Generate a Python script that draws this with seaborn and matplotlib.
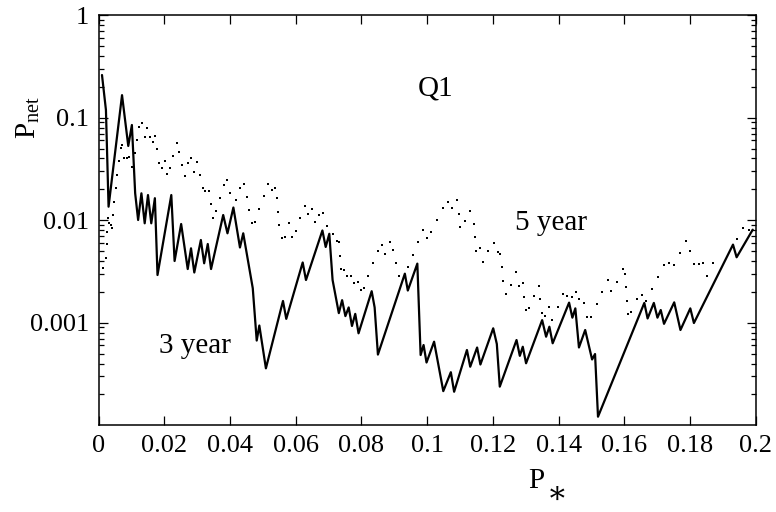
import matplotlib
matplotlib.use("Agg")
import matplotlib.pyplot as plt
from matplotlib.ticker import FixedLocator, FixedFormatter, LogLocator, NullLocator, NullFormatter
import numpy as np
import pandas as pd
import seaborn as sns

# 3-year survival curve (solid line)
p_star_3yr = [0.0010, 0.0022, 0.0030, 0.0071, 0.0090, 0.0101, 0.0111, 0.0120, 0.0130, 0.0140,
              0.0150, 0.0160, 0.0171, 0.0179, 0.0221, 0.0231, 0.0251, 0.0271, 0.0281, 0.0291,
              0.0311, 0.0321, 0.0332, 0.0342, 0.0379, 0.0392, 0.0410, 0.0430, 0.0440, 0.0469,
              0.0481, 0.0489, 0.0509, 0.0561, 0.0571, 0.0621, 0.0631, 0.0681, 0.0691, 0.0702,
              0.0712, 0.0731, 0.0741, 0.0751, 0.0761, 0.0771, 0.0781, 0.0791, 0.0831, 0.0840,
              0.0850, 0.0932, 0.0941, 0.0970, 0.0980, 0.0989, 0.0998, 0.1021, 0.1049, 0.1072,
              0.1082, 0.1121, 0.1131, 0.1152, 0.1162, 0.1201, 0.1212, 0.1221, 0.1272, 0.1282,
              0.1291, 0.1301, 0.1350, 0.1362, 0.1372, 0.1382, 0.1432, 0.1442, 0.1451, 0.1462,
              0.1481, 0.1502, 0.1511, 0.1520, 0.1661, 0.1671, 0.1690, 0.1701, 0.1711, 0.1721,
              0.1752, 0.1771, 0.1801, 0.1812, 0.1931, 0.1942, 0.1991]
p_net_3yr = [0.261, 0.119, 0.01355, 0.166, 0.0530, 0.0849, 0.0183, 0.01005, 0.0183, 0.00933,
             0.0176, 0.00933, 0.0164, 0.00292, 0.0176, 0.0040, 0.00918, 0.00334, 0.00532, 0.00309,
             0.00641, 0.00380, 0.00586, 0.00334, 0.01124, 0.00745, 0.0133, 0.00542, 0.00745, 0.00217,
             0.000670, 0.000939, 0.000359, 0.00163, 0.00109, 0.00387, 0.00261, 0.00794, 0.00548, 0.00737,
             0.00261, 0.00124, 0.00166, 0.00116, 0.00141, 0.000929, 0.00122, 0.000788, 0.00203, 0.00141,
             0.000489, 0.00301, 0.00206, 0.00377, 0.000484, 0.000606, 0.000409, 0.000653, 0.000215, 0.000329,
             0.000212, 0.000542, 0.000372, 0.000573, 0.000391, 0.000882, 0.000620, 0.000238, 0.000678, 0.000475,
             0.000583, 0.000402, 0.00106, 0.000730, 0.000914, 0.000630, 0.00157, 0.00112, 0.00138, 0.000573,
             0.000849, 0.000438, 0.000495, 0.000121, 0.00156, 0.00110, 0.00156, 0.00112, 0.00133, 0.000975,
             0.00158, 0.000849, 0.00138, 0.000993, 0.00578, 0.00435, 0.00808]

# 5-year survival curve (dots)
p_star_5yr = [0.0014, 0.0022, 0.0024, 0.0026, 0.0028, 0.0032, 0.0037, 0.0040, 0.0044, 0.0047,
              0.0053, 0.0057, 0.0061, 0.0067, 0.0072, 0.0077, 0.0085, 0.0093, 0.0101, 0.0110,
              0.0116, 0.0124, 0.0132, 0.0140, 0.0148, 0.0156, 0.0164, 0.0172, 0.0178, 0.0184,
              0.0193, 0.0201, 0.0209, 0.0217, 0.0227, 0.0237, 0.0245, 0.0254, 0.0262, 0.0272,
              0.0282, 0.0290, 0.0300, 0.0308, 0.0317, 0.0325, 0.0335, 0.0341, 0.0349, 0.0357,
              0.0369, 0.0382, 0.0392, 0.0400, 0.0418, 0.0431, 0.0443, 0.0451, 0.0458, 0.0467,
              0.0477, 0.0489, 0.0502, 0.0516, 0.0527, 0.0538, 0.0543, 0.0546, 0.0550, 0.0558,
              0.0568, 0.0580, 0.0588, 0.0601, 0.0614, 0.0628, 0.0638, 0.0649, 0.0658, 0.0672,
              0.0684, 0.0694, 0.0713, 0.0725, 0.0732, 0.0735, 0.0739, 0.0747, 0.0756, 0.0767,
              0.0777, 0.0788, 0.0798, 0.0809, 0.0821, 0.0835, 0.0849, 0.0862, 0.0872, 0.0888,
              0.0897, 0.0906, 0.0915, 0.0941, 0.0956, 0.0971, 0.0987, 0.0998, 0.1012, 0.1029,
              0.1047, 0.1063, 0.1075, 0.1092, 0.1096, 0.1100, 0.1114, 0.1131, 0.1142, 0.1146,
              0.1149, 0.1161, 0.1170, 0.1186, 0.1202, 0.1215, 0.1223, 0.1227, 0.1231, 0.1240,
              0.1254, 0.1270, 0.1279, 0.1291, 0.1296, 0.1301, 0.1310, 0.1326, 0.1341, 0.1344,
              0.1349, 0.1358, 0.1372, 0.1381, 0.1397, 0.1414, 0.1425, 0.1440, 0.1453, 0.1463,
              0.1477, 0.1486, 0.1500, 0.1516, 0.1532, 0.1549, 0.1560, 0.1577, 0.1595, 0.1603,
              0.1605, 0.1608, 0.1611, 0.1621, 0.1640, 0.1654, 0.1666, 0.1683, 0.1702, 0.1720,
              0.1735, 0.1750, 0.1769, 0.1788, 0.1800, 0.1811, 0.1826, 0.1840, 0.1851, 0.1871,
              0.1942, 0.1962, 0.1979]
p_net_5yr = [0.00340, 0.00425, 0.00582, 0.00773, 0.01044, 0.00933, 0.00898, 0.00834, 0.01124, 0.01514,
             0.02075, 0.0276, 0.0378, 0.0503, 0.0542, 0.0402, 0.0402, 0.0417, 0.0333, 0.0456,
             0.0606, 0.0817, 0.0882, 0.0653, 0.0788, 0.0653, 0.0583, 0.0663, 0.0492, 0.0364,
             0.0321, 0.0378, 0.0281, 0.0321, 0.0426, 0.0570, 0.0466, 0.0346, 0.0270, 0.0364,
             0.0402, 0.0297, 0.0372, 0.0276, 0.0205, 0.0193, 0.0193, 0.0143, 0.01057, 0.0123,
             0.0166, 0.0221, 0.0245, 0.0183, 0.01574, 0.0207, 0.0225, 0.0169, 0.01258, 0.00933,
             0.00954, 0.01277, 0.0172, 0.0225, 0.0197, 0.0205, 0.0166, 0.01211, 0.00898, 0.00665,
             0.00681, 0.00933, 0.00681, 0.00790, 0.01044, 0.01384, 0.01149, 0.01286, 0.00954, 0.01124,
             0.01167, 0.00884, 0.00733, 0.00627, 0.00608, 0.00451, 0.00334, 0.00327, 0.00286, 0.00286,
             0.00246, 0.00249, 0.00208, 0.00217, 0.00288, 0.00380, 0.00504, 0.00573, 0.00465, 0.00608,
             0.00512, 0.00380, 0.00286, 0.00347, 0.00461, 0.00608, 0.00807, 0.00675, 0.00762, 0.01012,
             0.01324, 0.01514, 0.01324, 0.01574, 0.01157, 0.00859, 0.00989, 0.01238, 0.00925, 0.00686,
             0.00504, 0.00532, 0.00388, 0.00504, 0.00603, 0.00486, 0.00465, 0.00347, 0.00257, 0.00191,
             0.00232, 0.00310, 0.00230, 0.00242, 0.00179, 0.00133, 0.00138, 0.00183, 0.00230, 0.00169,
             0.00125, 0.00116, 0.00143, 0.00106, 0.00143, 0.00189, 0.00182, 0.00179, 0.00200, 0.00169,
             0.00155, 0.00114, 0.00114, 0.00152, 0.00198, 0.00261, 0.00204, 0.00251, 0.00332, 0.00299,
             0.00221, 0.00164, 0.00122, 0.00128, 0.00169, 0.00188, 0.00164, 0.00215, 0.00281, 0.00368,
             0.00382, 0.00368, 0.00482, 0.00627, 0.00504, 0.00374, 0.00374, 0.00380, 0.00288, 0.00382,
             0.00656, 0.00839, 0.00802]

x_ticks = [0, 0.02, 0.04, 0.06, 0.08, 0.1, 0.12, 0.14, 0.16, 0.18, 0.2]
x_tick_labels = ["0", "0.02", "0.04", "0.06", "0.08", "0.1", "0.12", "0.14", "0.16", "0.18", "0.2"]
y_ticks = [1, 0.1, 0.01, 0.001]
y_tick_labels = ["1", "0.1", "0.01", "0.001"]

sns.set_style("ticks")
serif = "Liberation Serif"
plt.rcParams["font.family"] = [serif, "DejaVu Serif"]
plt.rcParams["mathtext.fontset"] = "custom"
plt.rcParams["mathtext.rm"] = serif
plt.rcParams["mathtext.it"] = serif
plt.rcParams["mathtext.default"] = "rm"
plt.rcParams["text.color"] = "black"
plt.rcParams["axes.labelcolor"] = "black"

df3 = pd.DataFrame({"p_star": p_star_3yr, "p_net": p_net_3yr})
df5 = pd.DataFrame({"p_star": p_star_5yr, "p_net": p_net_5yr})

fig = plt.figure(figsize=(7.76, 5.12), dpi=100)
ax = fig.add_axes([0.1272, 0.1695, 0.8466, 0.8008])

sns.lineplot(data=df3, x="p_star", y="p_net", ax=ax, color="black",
             linewidth=1.6, sort=False, estimator=None, legend=False)
sns.scatterplot(data=df5, x="p_star", y="p_net", ax=ax, color="black",
                s=3.5, marker="s", linewidth=0, legend=False)

ax.set_yscale("log")
ax.set_xlim(0, 0.2)
ax.set_ylim(1e-4, 1)

ax.xaxis.set_major_locator(FixedLocator(x_ticks))
ax.xaxis.set_major_formatter(FixedFormatter(x_tick_labels))
ax.xaxis.set_minor_locator(NullLocator())
ax.yaxis.set_major_locator(FixedLocator(y_ticks))
ax.yaxis.set_major_formatter(FixedFormatter(y_tick_labels))
ax.yaxis.set_minor_locator(LogLocator(base=10, subs=np.arange(2, 10)))
ax.yaxis.set_minor_formatter(NullFormatter())

ax.tick_params(which="both", direction="in", top=True, right=True,
               labelsize=19, colors="black", width=0.9)
ax.tick_params(which="major", length=6.5, pad=7)
ax.tick_params(which="minor", length=3.5)
for s in ax.spines.values():
    s.set_linewidth(1.1)
    s.set_color("black")

ax.set_xlabel("")
ax.set_ylabel("")

ax.text(0.513, 0.805, "Q1", transform=ax.transAxes, ha="center", va="baseline",
        fontsize=21, color="black")
ax.text(0.634, 0.476, "5 year", transform=ax.transAxes, ha="left", va="baseline",
        fontsize=21, color="black")
ax.text(0.092, 0.176, "3 year", transform=ax.transAxes, ha="left", va="baseline",
        fontsize=21, color="black")

# Axis titles
fig.text(0.036, 0.77, r"P$_{\mathrm{net}}$", rotation=90, ha="center", va="center",
         fontsize=21, color="black")
fig.text(0.702, 0.047, "P", ha="right", va="baseline", fontsize=21, color="black")
fig.text(0.705, 0.018, "\u2217", ha="left", va="baseline", fontsize=22, color="black")

fig.savefig("out.png", dpi=100, facecolor="white")
